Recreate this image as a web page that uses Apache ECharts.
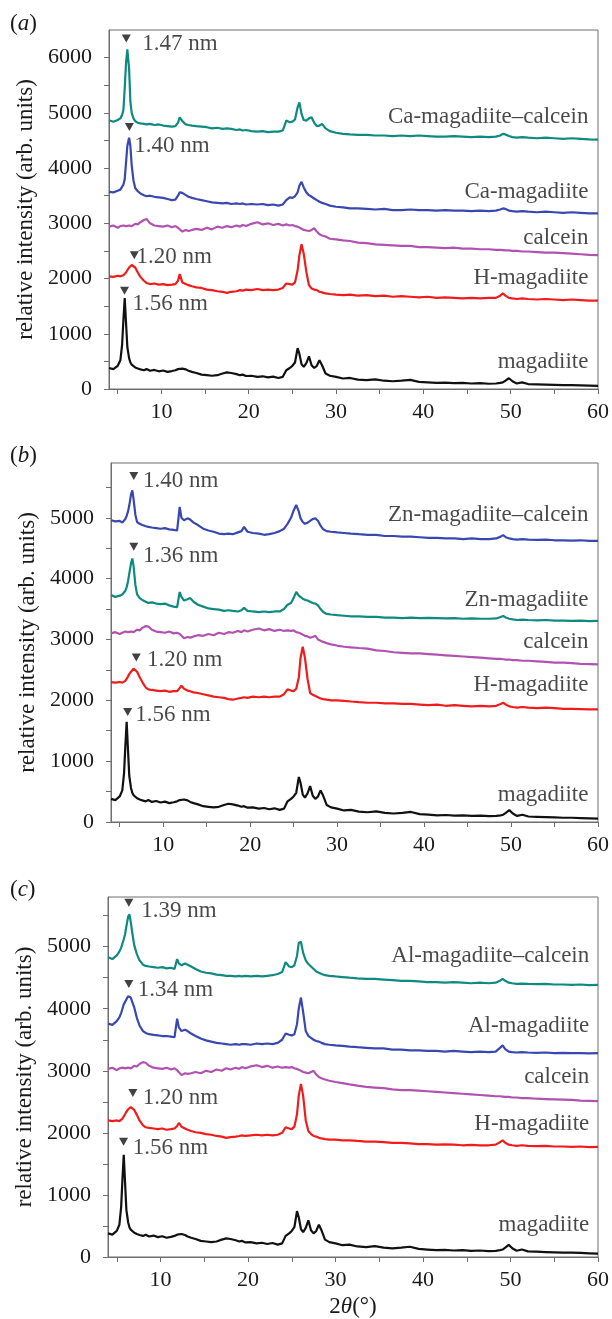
<!DOCTYPE html>
<html>
<head>
<meta charset="utf-8">
<title>XRD patterns of magadiite samples</title>
<script src="https://cdn.jsdelivr.net/npm/echarts@6.0.0/dist/echarts.min.js"></script>
<style>
html,body{margin:0;padding:0;background:#fff;}
#chart{width:612px;height:1319px;}
</style>
</head>
<body>
<div id="chart"></div>
<script>
// shared 2-theta grid (deg), finer around the peaks
const twoTheta = [
  4, 4.5, 5, 5.3, 5.5, 5.65, 5.8, 5.95, 6.1, 6.3, 6.45, 6.6, 6.8, 7.0,
  7.3, 7.6, 8.0, 8.3, 8.7, 9.2, 9.7, 10.2, 10.7, 11.2, 11.6, 11.9, 12.1, 12.4, 12.8, 13.1,
  13.5, 14.0, 14.6, 15.2, 15.8, 16.4, 17.0, 17.5, 18.0, 18.6, 19.0, 19.3, 19.7, 20.3, 21.0, 21.6, 22.2, 22.8, 23.4, 23.9,
  24.3, 24.7, 25.0, 25.3, 25.6, 25.8, 26.05, 26.3, 26.6, 26.9, 27.2, 27.5, 27.8, 28.1, 28.4, 28.8, 29.3, 30.0,
  30.8, 31.6, 32.5, 33.5, 34.5, 35.5, 36.5, 37.5, 38.5, 39.5, 40.5, 41.5, 42.5, 43.5, 44.5, 45.5, 46.5, 47.5,
  48.3, 48.8, 49.1, 49.4, 49.8, 50.2, 50.7, 51.3, 52.0, 53.0, 54.0, 55.0, 56.0, 57.0, 58.0, 59.0, 60.0
];

// magadiite (same pattern in all three panels)
const magadiite = [
  380, 360, 420, 520, 800, 1250, 1645, 1200, 760, 560, 480, 440, 420, 390,
  370, 355, 340, 360, 330, 345, 320, 335, 310, 325, 340, 360, 380, 370, 355, 330,
  310, 290, 260, 250, 240, 250, 280, 300, 290, 270, 250, 260, 235, 240, 220, 230, 210, 225, 200, 220,
  340, 380, 420, 480, 740, 640, 450, 400, 470, 590, 430, 380, 420, 520, 430, 280, 240, 220,
  190, 200, 170, 160, 175, 150, 140, 150, 165, 130, 120, 110, 115, 105, 110, 100, 105, 95,
  100, 110, 120, 150, 195, 140, 100, 120, 90, 85, 80, 75, 70, 70, 65, 60, 55
];

// panel (a)
const hMagA = [
  2040, 2030, 2050, 2040, 2050, 2060, 2080, 2110, 2150, 2200, 2230, 2245, 2240, 2200,
  2110, 2030, 1960, 1920, 1900, 1910, 1890, 1900, 1880, 1890, 1900, 1960, 2080, 1930, 1900, 1880,
  1860, 1840, 1830, 1800, 1790, 1770, 1760, 1740, 1760, 1770, 1790, 1780, 1800, 1790, 1810, 1790, 1800, 1790, 1800, 1830,
  1910, 1900, 1890, 1930, 2150, 2420, 2620, 2450, 2120, 1880, 1820, 1800, 1790, 1760, 1750, 1730, 1720, 1710,
  1700, 1710, 1690, 1700, 1680, 1690, 1670, 1680, 1670, 1660, 1670, 1650, 1660, 1650, 1640, 1650, 1640, 1650,
  1650, 1690, 1730, 1690, 1650, 1640, 1630, 1640, 1630, 1620, 1630, 1620, 1610, 1620, 1610, 1600, 1600
];
const calceinA = [
  2940, 2960, 2920, 2950, 2930, 2960, 2940, 2950, 2920, 2960, 2980, 2950, 2970, 2990,
  2980, 3020, 3060, 3080, 3000, 2960, 2950, 2940, 2960, 2930, 2950, 2920, 2900, 2850, 2880, 2860,
  2880, 2900, 2880, 2920, 2890, 2940, 2920, 2950, 2930, 2960, 2940, 2970, 2950, 2990, 3020, 2980, 3000, 2970, 2990, 2960,
  2980, 2960, 2970, 2950, 2940, 2910, 2900, 2880, 2870, 2860, 2880, 2910, 2850, 2800, 2780, 2760, 2720, 2710,
  2690, 2680, 2650, 2640, 2620, 2610, 2600, 2590, 2590, 2570, 2570, 2560, 2550, 2560, 2540, 2540, 2530, 2530,
  2520, 2520, 2515, 2510, 2510, 2500, 2500, 2490, 2490, 2480, 2470, 2470, 2460, 2450, 2440, 2430, 2425
];
const caMag = [
  3570, 3560, 3590, 3610, 3640, 3700, 3800, 4100, 4400, 4550, 4400, 4050, 3780, 3640,
  3580, 3540, 3510, 3490, 3500, 3480, 3470, 3460, 3440, 3420, 3430, 3500, 3560, 3550, 3510, 3480,
  3460, 3440, 3420, 3400, 3380, 3370, 3360, 3370, 3350, 3360, 3350, 3360, 3340, 3350, 3340, 3350, 3330, 3340, 3320, 3340,
  3420, 3470, 3460, 3490, 3560, 3680, 3750, 3650, 3560, 3510, 3480, 3450, 3420, 3390, 3370, 3350, 3320, 3300,
  3290, 3270, 3270, 3260, 3250, 3260, 3240, 3240, 3250, 3240, 3240, 3230, 3240, 3230, 3230, 3220, 3230, 3220,
  3230, 3250, 3270, 3260, 3230, 3220, 3210, 3220, 3210, 3200, 3210, 3200, 3190, 3200, 3190, 3180, 3180
];
const caMagCalcein = [
  4865, 4840, 4870, 4900, 4960, 5050, 5450, 5900, 6150, 5800, 5200, 5000, 4900, 4850,
  4820, 4810, 4800, 4790, 4800, 4780, 4790, 4770, 4760, 4750, 4760, 4820, 4920, 4850, 4790, 4780,
  4770, 4760, 4750, 4740, 4720, 4730, 4710, 4720, 4710, 4690, 4700, 4680, 4690, 4670, 4660, 4670, 4650, 4660, 4660, 4680,
  4860, 4830, 4840, 4880, 5100, 5190, 4980, 4870, 4860, 4900, 4920, 4820, 4760, 4770, 4800, 4720, 4670, 4640,
  4620, 4610, 4600, 4600, 4590, 4590, 4580, 4590, 4580, 4590, 4580, 4570, 4570, 4580, 4570, 4560, 4570, 4560,
  4570, 4590, 4620, 4610, 4580, 4560, 4550, 4560, 4550, 4540, 4550, 4540, 4530, 4540, 4530, 4520, 4515
];

// panel (b)
const hMagB = [
  2300, 2290, 2300, 2290, 2300, 2320, 2350, 2390, 2430, 2470, 2500, 2520, 2515, 2470,
  2380, 2300, 2210, 2180, 2170, 2160, 2150, 2160, 2140, 2150, 2150, 2200, 2240, 2190, 2160, 2150,
  2130, 2120, 2100, 2080, 2060, 2050, 2040, 2020, 2010, 2030, 2040, 2050, 2040, 2060, 2050, 2060, 2050, 2060, 2060, 2100,
  2180, 2160, 2150, 2190, 2380, 2700, 2880, 2700, 2350, 2120, 2090, 2070, 2050, 2030, 2020, 2010, 2000, 2000,
  1990, 1980, 1970, 1960, 1960, 1950, 1950, 1940, 1940, 1930, 1920, 1930, 1910, 1920, 1910, 1900, 1910, 1900,
  1910, 1940, 1960, 1930, 1900, 1890, 1880, 1890, 1880, 1870, 1880, 1870, 1860, 1860, 1855, 1850, 1850
];
const calceinB = [
  3100, 3120, 3090, 3110, 3100, 3130, 3110, 3120, 3090, 3130, 3150, 3120, 3140, 3160,
  3150, 3190, 3220, 3210, 3160, 3130, 3120, 3110, 3130, 3100, 3110, 3090, 3060, 3020, 3040, 3030,
  3050, 3070, 3060, 3090, 3070, 3110, 3090, 3120, 3110, 3140, 3120, 3150, 3130, 3160, 3180, 3150, 3170, 3140, 3160, 3140,
  3150, 3140, 3150, 3120, 3110, 3090, 3080, 3060, 3050, 3030, 3040, 3060, 3000, 2980, 2960, 2940, 2920, 2900,
  2880, 2870, 2860, 2850, 2820, 2810, 2790, 2780, 2770, 2770, 2760, 2750, 2740, 2730, 2720, 2710, 2700, 2690,
  2680, 2680, 2675, 2670, 2670, 2660, 2660, 2650, 2650, 2640, 2630, 2620, 2620, 2610, 2600, 2595, 2590
];
const znMag = [
  3730, 3700, 3720, 3740, 3760, 3800, 3860, 3950, 4080, 4250, 4330, 4200, 3900, 3740,
  3680, 3650, 3620, 3600, 3610, 3590, 3580, 3590, 3560, 3540, 3530, 3780, 3700, 3640, 3660, 3680,
  3620, 3570, 3540, 3510, 3500, 3490, 3470, 3480, 3470, 3460, 3480, 3520, 3470, 3460, 3450, 3460, 3450, 3460, 3460, 3500,
  3570, 3600, 3680, 3780, 3720, 3690, 3670, 3650, 3640, 3620, 3600, 3590, 3560, 3500, 3450, 3420, 3410, 3400,
  3390, 3380, 3380, 3370, 3370, 3360, 3360, 3350, 3360, 3350, 3355, 3350, 3345, 3350, 3340, 3345, 3340, 3340,
  3345, 3370, 3385, 3360, 3340, 3330, 3320, 3325, 3320, 3315, 3320, 3310, 3310, 3305, 3310, 3300, 3305
];
const znMagCalcein = [
  4960, 4940, 4950, 4920, 4940, 4980, 5030, 5100, 5200, 5380, 5450, 5300, 5050, 4930,
  4900, 4880, 4860, 4850, 4840, 4830, 4820, 4830, 4810, 4800, 4790, 5180, 5000, 4960, 4990, 4970,
  4920, 4880, 4820, 4790, 4770, 4740, 4730, 4740, 4730, 4760, 4780, 4850, 4770, 4750, 4740, 4720, 4730, 4750, 4780, 4820,
  4900, 5000, 5120, 5210, 5100, 4990, 4930, 4900, 4920, 4950, 4980, 4990, 4950, 4870, 4810, 4780, 4770, 4760,
  4750, 4740, 4730, 4720, 4720, 4700, 4700, 4690, 4690, 4680, 4670, 4670, 4660, 4660, 4650, 4660, 4650, 4650,
  4660, 4690, 4715, 4680, 4660, 4650, 4640, 4650, 4640, 4635, 4640, 4630, 4630, 4625, 4630, 4620, 4620
];

// panel (c)
const hMagC = [
  2200, 2190, 2200, 2190, 2210, 2230, 2260, 2300, 2340, 2380, 2400, 2415, 2410, 2370,
  2290, 2200, 2120, 2090, 2080, 2070, 2060, 2070, 2050, 2060, 2070, 2110, 2160, 2100, 2070, 2050,
  2030, 2010, 2000, 1980, 1970, 1950, 1940, 1920, 1930, 1940, 1950, 1960, 1950, 1960, 1970, 1960, 1970, 1960, 1970, 2000,
  2090, 2070, 2060, 2100, 2300, 2600, 2790, 2600, 2200, 2030, 1980, 1950, 1940, 1920, 1910, 1900, 1890, 1890,
  1880, 1880, 1870, 1860, 1860, 1850, 1840, 1840, 1830, 1820, 1820, 1810, 1815, 1810, 1800, 1805, 1800, 1800,
  1810, 1850, 1880, 1840, 1810, 1800, 1790, 1800, 1790, 1785, 1790, 1780, 1780, 1775, 1780, 1770, 1775
];
const calceinC = [
  3030, 3050, 3010, 3040, 3020, 3050, 3030, 3040, 3010, 3050, 3070, 3040, 3060, 3080,
  3070, 3110, 3140, 3130, 3080, 3050, 3040, 3030, 3050, 3020, 3040, 3010, 2990, 2930, 2960, 2950,
  2960, 2980, 2960, 3000, 2980, 3020, 3000, 3040, 3020, 3050, 3030, 3060, 3040, 3070, 3090, 3060, 3080, 3050, 3070, 3050,
  3060, 3050, 3060, 3040, 3030, 3010, 3000, 2980, 2970, 2960, 2980, 3000, 2940, 2900, 2880, 2860, 2840, 2820,
  2800, 2780, 2760, 2740, 2730, 2720, 2700, 2690, 2690, 2680, 2670, 2660, 2650, 2640, 2630, 2620, 2610, 2600,
  2590, 2590, 2585, 2580, 2580, 2570, 2570, 2560, 2560, 2550, 2545, 2540, 2535, 2530, 2520, 2515, 2510
];
const alMag = [
  3760, 3740, 3800, 3860, 3930, 4000, 4070, 4110, 4150, 4200, 4210, 4180, 4100, 4020,
  3850, 3730, 3640, 3610, 3590, 3580, 3570, 3560, 3560, 3550, 3540, 3840, 3700, 3640, 3660, 3640,
  3600, 3560, 3520, 3490, 3470, 3450, 3440, 3430, 3420, 3430, 3420, 3430, 3430, 3420, 3440, 3430, 3440, 3430, 3450, 3500,
  3600, 3580, 3570, 3590, 3750, 4000, 4180, 3950, 3640, 3560, 3530, 3500, 3480, 3470, 3450, 3430, 3420, 3410,
  3400, 3390, 3380, 3370, 3360, 3360, 3340, 3340, 3330, 3330, 3320, 3320, 3310, 3320, 3310, 3300, 3310, 3300,
  3310, 3370, 3410, 3350, 3310, 3300, 3295, 3300, 3295, 3290, 3295, 3285, 3290, 3285, 3285, 3280, 3285
];
const alMagCalcein = [
  4830, 4800, 4860, 4920, 4980, 5050, 5120, 5200, 5330, 5480, 5520, 5400, 5200, 5020,
  4880, 4780, 4710, 4690, 4680, 4670, 4660, 4670, 4650, 4660, 4640, 4800, 4730, 4700, 4730, 4710,
  4680, 4640, 4600, 4580, 4570, 4550, 4540, 4530, 4530, 4520, 4530, 4520, 4530, 4520, 4530, 4520, 4530, 4540, 4560, 4590,
  4750, 4680, 4670, 4700, 4850, 5060, 5080, 4900, 4780, 4720, 4680, 4640, 4600, 4580, 4560, 4540, 4530, 4520,
  4510, 4500, 4490, 4480, 4480, 4470, 4460, 4450, 4450, 4440, 4430, 4430, 4420, 4430, 4420, 4410, 4420, 4410,
  4420, 4450, 4480, 4450, 4420, 4410, 4400, 4405, 4400, 4395, 4400, 4390, 4390, 4385, 4390, 4380, 4385
];

// axis ticks and labels
const xTickVals = [5, 10, 15, 20, 25, 30, 35, 40, 45, 50, 55, 60];
const xLabelVals = [10, 20, 30, 40, 50, 60];
const yTickValsA = [0, 500, 1000, 1500, 2000, 2500, 3000, 3500, 4000, 4500, 5000, 5500, 6000];
const yLabelValsA = [0, 1000, 2000, 3000, 4000, 5000, 6000];
const yTickValsBC = [0, 500, 1000, 1500, 2000, 2500, 3000, 3500, 4000, 4500, 5000, 5500];
const yLabelValsBC = [0, 1000, 2000, 3000, 4000, 5000];

// d-spacing marks [2theta, intensity] and their texts [2theta, intensity, text]
const marksA = [[5.98, 6347], [6.33, 4743], [6.9, 2423], [5.78, 1778]];
const marksB = [[6.62, 5686], [6.62, 4523], [6.91, 2704], [5.92, 1809]];
const marksC = [[6.38, 5709], [6.38, 4398], [6.84, 2644], [5.78, 1857]];
const markTextA = [[7.8, 6251, '1.47 nm'], [6.89, 4400, '1.40 nm'], [7.15, 2392, '1.20 nm'], [6.7, 1537, '1.56 nm']];
const markTextB = [[7.68, 5609, '1.40 nm'], [7.68, 4370, '1.36 nm'], [8.14, 2660, '1.20 nm'], [6.8, 1755, '1.56 nm']];
const markTextC = [[7.8, 5575, '1.39 nm'], [7.41, 4302, '1.34 nm'], [7.98, 2563, '1.20 nm'], [6.84, 1761, '1.56 nm']];

// curve names, right aligned [2theta, intensity, text]
const namesA = [[58.9, 4919, 'Ca-magadiite–calcein'], [58.9, 3568, 'Ca-magadiite'], [58.9, 2731, 'calcein'], [58.9, 2007, 'H-magadiite'], [58.9, 488, 'magadiite']];
const namesB = [[58.9, 5044, 'Zn-magadiite–calcein'], [58.9, 3646, 'Zn-magadiite'], [58.9, 2961, 'calcein'], [58.9, 2248, 'H-magadiite'], [58.9, 439, 'magadiite']];
const namesC = [[59.0, 4852, 'Al-magadiite–calcein'], [59.0, 3729, 'Al-magadiite'], [59.0, 2900, 'calcein'], [59.0, 2151, 'H-magadiite'], [59.0, 518, 'magadiite']];

[magadiite, hMagA, calceinA, caMag, caMagCalcein, hMagB, calceinB, znMag, znMagCalcein,
 hMagC, calceinC, alMag, alMagCalcein].forEach((a, i) => {
  if (a.length !== twoTheta.length) throw new Error('array ' + i + ' has ' + a.length + ' points');
});

const FONT = '"Liberation Serif", "DejaVu Serif", serif';
const TXT = '#1a1a1a';
const FRAME = '#6e6e6e';
const BLACK = '#111111', RED = '#f01c1c', MAGENTA = '#b152b0', BLUE = '#3848b0', TEAL = '#0f8a80';

const grids = [
  {left: 109, right: 11, top: 30, height: 359},
  {left: 111, right: 11, top: 463, height: 359},
  {left: 108, right: 13, top: 897, height: 362}
];
const yMax = [6500, 5900, 5800];

const chart = echarts.init(document.getElementById('chart'));

function xAxisFor(i) {
  const ax = {
    type: 'value', gridIndex: i, min: 4, max: 60,
    axisLine: {show: true, lineStyle: {color: FRAME, width: 1}},
    axisTick: {show: true, customValues: xTickVals, length: 5, lineStyle: {color: FRAME}},
    axisLabel: {customValues: xLabelVals, formatter: v => String(v), fontFamily: FONT, fontSize: 22, color: TXT, margin: 12},
    splitLine: {show: false}
  };
  if (i === 2) {
    ax.name = '{n|2}{i|θ}{n|(°)}';
    ax.nameLocation = 'middle';
    ax.nameGap = 38;
    ax.nameTextStyle = {
      rich: {
        n: {fontFamily: FONT, fontSize: 23, color: TXT},
        i: {fontFamily: FONT, fontSize: 23, color: TXT, fontStyle: 'italic'}
      }
    };
  }
  return ax;
}

function yAxisFor(i) {
  return {
    type: 'value', gridIndex: i, min: 0, max: yMax[i],
    name: 'relative intensity (arb. units)', nameLocation: 'middle', nameGap: 63,
    nameTextStyle: {fontFamily: FONT, fontSize: 23, color: TXT},
    axisLine: {show: true, lineStyle: {color: FRAME, width: 1}},
    axisTick: {show: true, customValues: i === 0 ? yTickValsA : yTickValsBC, length: 5, lineStyle: {color: FRAME}},
    axisLabel: {customValues: i === 0 ? yLabelValsA : yLabelValsBC, formatter: v => String(v), fontFamily: FONT, fontSize: 22, color: TXT, margin: 17},
    splitLine: {show: false}
  };
}

function line(i, values, color) {
  return {
    type: 'line', xAxisIndex: i, yAxisIndex: i,
    data: twoTheta.map((t, k) => [t, values[k]]),
    symbol: 'none', showSymbol: false, silent: true, z: 2,
    lineStyle: {color: color, width: 2.2}, itemStyle: {color: color}
  };
}

function marks(i, pts) {
  return {
    type: 'scatter', xAxisIndex: i, yAxisIndex: i, data: pts, z: 5, silent: true,
    symbol: 'triangle', symbolRotate: 180, symbolSize: [9, 8], itemStyle: {color: '#111'}
  };
}

function texts(i, rows, pos) {
  return {
    type: 'scatter', xAxisIndex: i, yAxisIndex: i, z: 6, silent: true,
    data: rows.map(r => ({name: r[2], value: [r[0], r[1]]})),
    symbolSize: 0,
    label: {show: true, position: pos, distance: 0, formatter: '{b}', fontFamily: FONT, fontSize: 23, color: TXT}
  };
}

function panelTitle(letter, top) {
  return {
    text: '{p|(}{i|' + letter + '}{p|)}', left: 10, top: top, padding: 0,
    textStyle: {
      fontWeight: 'normal',
      rich: {
        p: {fontFamily: FONT, fontSize: 23, color: TXT, fontWeight: 'normal'},
        i: {fontFamily: FONT, fontSize: 23, color: TXT, fontStyle: 'italic', fontWeight: 'normal'}
      }
    }
  };
}

chart.setOption({
  animation: false,
  backgroundColor: '#ffffff',
  title: [panelTitle('a', 12), panelTitle('b', 444), panelTitle('c', 878)],
  grid: grids.map(g => Object.assign({show: true, borderColor: FRAME, borderWidth: 1, backgroundColor: 'transparent'}, g)),
  xAxis: [0, 1, 2].map(xAxisFor),
  yAxis: [0, 1, 2].map(yAxisFor),
  series: [
    line(0, magadiite, BLACK), line(0, hMagA, RED), line(0, calceinA, MAGENTA), line(0, caMag, BLUE), line(0, caMagCalcein, TEAL),
    marks(0, marksA), texts(0, markTextA, 'right'), texts(0, namesA, 'left'),
    line(1, magadiite, BLACK), line(1, hMagB, RED), line(1, calceinB, MAGENTA), line(1, znMag, TEAL), line(1, znMagCalcein, BLUE),
    marks(1, marksB), texts(1, markTextB, 'right'), texts(1, namesB, 'left'),
    line(2, magadiite, BLACK), line(2, hMagC, RED), line(2, calceinC, MAGENTA), line(2, alMag, BLUE), line(2, alMagCalcein, TEAL),
    marks(2, marksC), texts(2, markTextC, 'right'), texts(2, namesC, 'left')
  ]
});
</script>
</body>
</html>
